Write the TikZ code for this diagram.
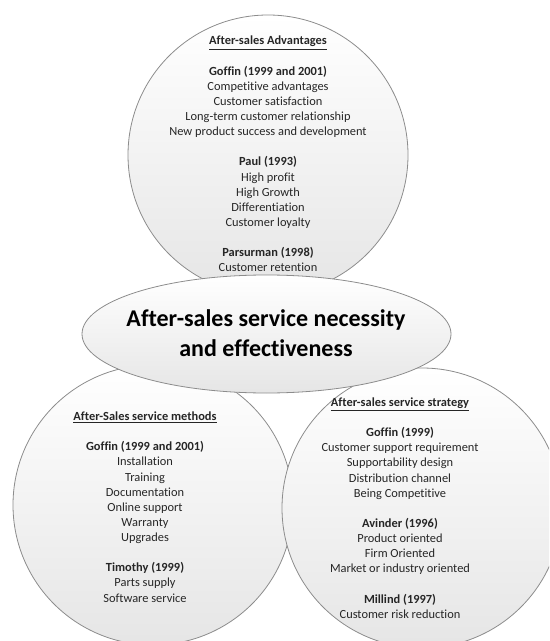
\documentclass[tikz,border=0pt]{standalone}
\usepackage{fontspec}
\setmainfont{Carlito}[Ligatures=NoCommon]
\usetikzlibrary{shapes,backgrounds}

\begin{document}
\begin{tikzpicture}[x=0.75pt,y=-0.75pt,
  bubble/.style={circle,draw=black!45,line width=0.6pt,top color=white,bottom color=black!10,minimum size=210pt,inner sep=0pt},
  blurb/.style={align=center,text=black!85,font=\fontsize{9.3}{11.35}\selectfont}]
\clip (0,0) rectangle (549,641);
\node[bubble] (adv) at (268,155) {};
\node[bubble] (meth) at (153,505) {};
\node[bubble] (strat) at (422,508) {};
\node[ellipse,draw=black!45,line width=0.6pt,top color=white,bottom color=black!10,minimum width=276.75pt,minimum height=88.5pt] (need) at (266.5,334) {};
\node[blurb] (advtext) at (268,154) {\underline{\textbf{After-sales Advantages}}\\[11.35pt]
\textbf{Goffin (1999 and 2001)}\\ Competitive advantages\\ Customer satisfaction\\ Long-term customer relationship\\ New product success and development\\[11.35pt]
\textbf{Paul (1993)}\\ High profit\\ High Growth\\ Differentiation\\ Customer loyalty\\[11.35pt]
\textbf{Parsurman (1998)}\\ Customer retention};
\node[blurb] (methtext) at (145,507) {\underline{\textbf{After-Sales service methods}}\\[11.35pt]
\textbf{Goffin (1999 and 2001)}\\ Installation\\ Training\\ Documentation\\ Online support\\ Warranty\\ Upgrades\\[11.35pt]
\textbf{Timothy (1999)}\\ Parts supply\\ Software service};
\node[blurb] (strattext) at (400,508) {\underline{\textbf{After-sales service strategy}}\\[11.35pt]
\textbf{Goffin (1999)}\\ Customer support requirement\\ Supportability design\\ Distribution channel\\ Being Competitive\\[11.35pt]
\textbf{Avinder (1996)}\\ Product oriented\\ Firm Oriented\\ Market or industry oriented\\[11.35pt]
\textbf{Millind (1997)}\\ Customer risk reduction};
\node[align=center,font=\fontsize{18}{22.5}\selectfont\bfseries] (needtext) at (266,333) {After-sales service necessity\\ and effectiveness};
\end{tikzpicture}
\end{document}
